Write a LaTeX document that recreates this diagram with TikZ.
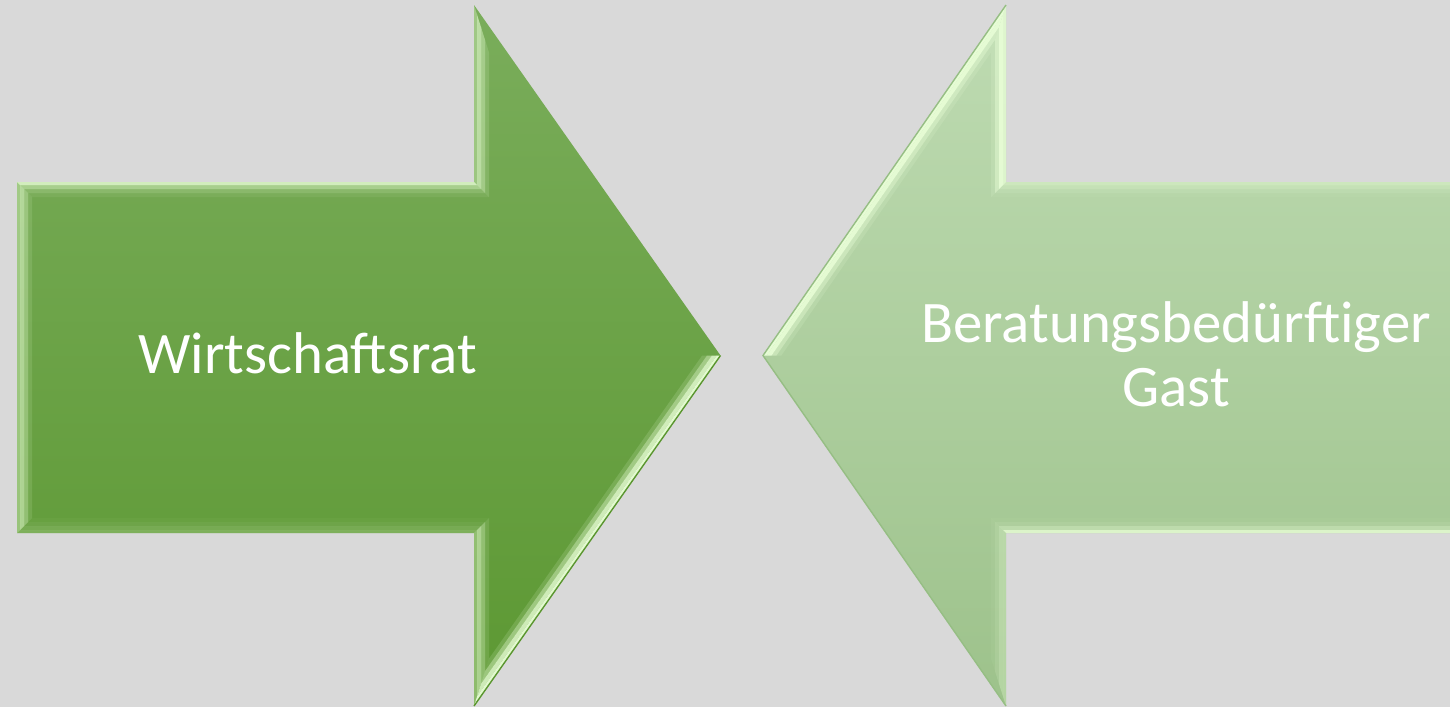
\documentclass[tikz,border=0pt]{standalone}
\usepackage{fontspec}
\setmainfont{Carlito}
\begin{document}
\begin{tikzpicture}[x=0.02cm,y=-0.02cm,
  label text/.style={text=white,font=\fontsize{33.5}{40}\selectfont,inner sep=0pt}]
\definecolor{bg}{HTML}{D9D9D9}
\definecolor{darkTop}{HTML}{7AAD5B}
\definecolor{darkBot}{HTML}{5C9832}
\definecolor{lightTop}{HTML}{BEDBB2}
\definecolor{lightBot}{HTML}{9DC28B}
\definecolor{edgeDark}{HTML}{5A962F}
\definecolor{edgeLight}{HTML}{96BE84}
\definecolor{glow}{HTML}{EAFFD8}
% bevel band between two inset levels of one edge
\newcommand\bevelband[5]{\fill[glow,opacity=#5] (#1#3) -- (#2#3) -- (#2#4) -- (#1#4) -- cycle;}
\newcommand\bevel[6]{%
  \bevelband{#1}{#2}{a}{b}{#3}\bevelband{#1}{#2}{b}{c}{#4}%
  \bevelband{#1}{#2}{c}{d}{#5}\bevelband{#1}{#2}{d}{e}{#6}}

\useasboundingbox (0,0) rectangle (1450,707);
\fill[bg] (0,0) rectangle (1450,707);

% inset outlines of both arrows at depths 0, 3, 7, 11, 15
\foreach \d/\n in {0/a,3/b,7/c,11/d,15/e}{
  \coordinate (LA\n) at (17+\d,182+\d);
  \coordinate (LB\n) at (474+\d,182+\d);
  \coordinate (LC\n) at (474+\d,5+3.162*\d);
  \coordinate (LD\n) at (720.5-1.222*\d,355.5);
  \coordinate (LE\n) at (474+\d,706-3.162*\d);
  \coordinate (LF\n) at (474+\d,533-\d);
  \coordinate (LG\n) at (17+\d,533-\d);
  \coordinate (RP\n) at (1452,182+\d);
  \coordinate (RQ\n) at (1006-\d,182+\d);
  \coordinate (RR\n) at (1006-\d,5+3.162*\d);
  \coordinate (RS\n) at (763+1.222*\d,355.5);
  \coordinate (RT\n) at (1006-\d,706-3.162*\d);
  \coordinate (RU\n) at (1006-\d,533-\d);
  \coordinate (RV\n) at (1452,533-\d);
}

% left arrow
\shade[top color=darkTop,bottom color=darkBot]
  (LAa) -- (LBa) -- (LCa) -- (LDa) -- (LEa) -- (LFa) -- (LGa) -- cycle;
\bevel{LA}{LB}{.8}{.45}{.2}{.08}
\bevel{LG}{LA}{.4}{.55}{.35}{.12}
\bevel{LB}{LC}{.35}{.6}{.4}{.15}
\bevel{LD}{LE}{.95}{.8}{.45}{.15}
\bevel{LE}{LF}{.35}{.55}{.35}{.12}
\bevel{LF}{LG}{.2}{.15}{.08}{.03}
\draw[edgeDark,line width=0.8pt] (LDa) -- (LEa);

% right arrow
\shade[top color=lightTop,bottom color=lightBot]
  (RPa) -- (RQa) -- (RRa) -- (RSa) -- (RTa) -- (RUa) -- (RVa) -- cycle;
\bevel{RQ}{RP}{.45}{.3}{.15}{.05}
\bevel{RQ}{RR}{.75}{.9}{.5}{.15}
\bevel{RR}{RS}{.95}{.9}{.45}{.15}
\bevel{RT}{RU}{.3}{.3}{.15}{.05}
\bevel{RU}{RV}{.8}{.35}{.12}{.04}
\draw[edgeLight,line width=0.8pt] (RRa) -- (RSa) -- (RTa);

% labels
\node[label text,anchor=base] (wr) at (307.5,373) {Wirtschaftsrat};
\node[label text,anchor=base] (bg1) at (1176,342) {Beratungsbedürftiger};
\node[label text,anchor=base] (bg2) at (1176,406) {Gast};
\end{tikzpicture}
\end{document}
